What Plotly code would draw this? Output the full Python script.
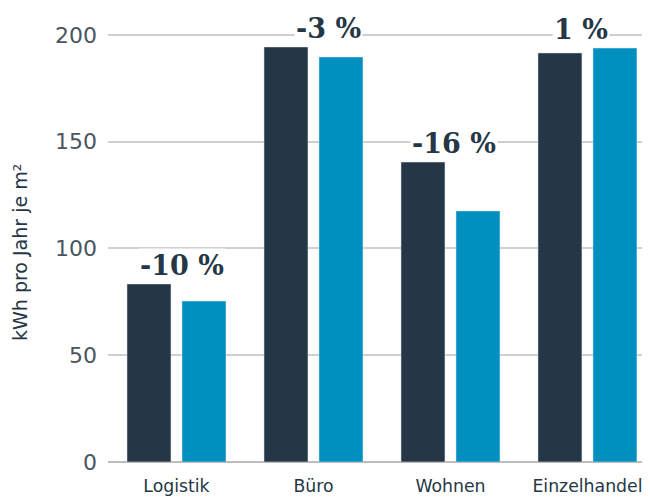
import plotly.graph_objects as go

categories = ["Logistik", "Büro", "Wohnen", "Einzelhandel"]
values_before = [83.4, 194.4, 140.5, 191.6]
values_after = [75.4, 189.7, 117.6, 193.9]
change_labels = ["-10 %", "-3 %", "-16 %", "1 %"]
y_title = "kWh pro Jahr je m²"

dark = "#253746"
blue = "#008FBE"
label_xshift = [6, 15, 4, -6]

fig = go.Figure()
fig.add_trace(go.Bar(x=categories, y=values_before, marker_color=dark, name="a", showlegend=False))
fig.add_trace(go.Bar(x=categories, y=values_after, marker_color=blue, name="b", showlegend=False))

for c, a, b, t, dx in zip(categories, values_before, values_after, change_labels, label_xshift):
    fig.add_annotation(x=c, y=max(a, b), text=t, showarrow=False, yanchor="bottom",
                       xshift=dx, yshift=1, bgcolor="white", borderpad=1,
                       font=dict(family="DejaVu Serif", size=27, color=dark, weight="bold"))

fig.add_annotation(xref="paper", yref="paper", x=-0.16, y=0.4624, text=y_title,
                   textangle=-90, showarrow=False, xanchor="center", yanchor="middle",
                   font=dict(family="DejaVu Sans", size=19, color=dark))

fig.update_layout(
    width=650, height=498,
    margin=dict(l=100, r=0, t=2, b=44),
    plot_bgcolor="white", paper_bgcolor="white",
    barmode="group", bargap=0.197, bargroupgap=0.2,
    font=dict(family="DejaVu Sans", color=dark),
    showlegend=False,
)
fig.update_xaxes(range=[-0.5, 3.515], showgrid=False, showline=False, ticks="",
                 tickfont=dict(size=17.3, color=dark), ticklabelstandoff=12)
fig.update_yaxes(range=[0, 211.7], tickvals=[0, 50, 100, 150, 200], showgrid=True,
                 gridcolor="#cfcfcf", gridwidth=1.5, zeroline=True, zerolinecolor="#bdbdbd",
                 zerolinewidth=1.5, showline=False, ticks="",
                 tickfont=dict(size=22, color="#4a5560"), ticklabelstandoff=10)

fig.write_html("out.html")
